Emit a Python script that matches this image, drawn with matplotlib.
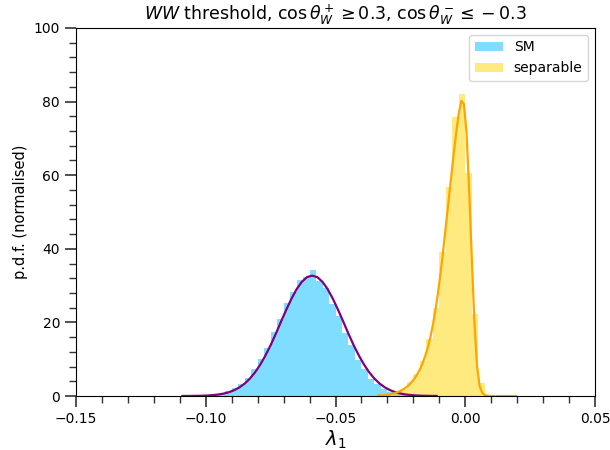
import matplotlib
matplotlib.use("Agg")
import matplotlib.pyplot as plt
from matplotlib.ticker import MultipleLocator
import numpy as np

# histogram bins (width 0.0025) and normalised heights
binWidth = 0.0025
smFirstCentre = -0.10875
smHeights = [0.01, 0.02, 0.05, 0.1, 0.2, 0.4, 0.7, 1.3, 2.1, 3.3,
             5.0, 7.3, 10.1, 13.0, 17.5, 21.0, 25.4, 28.3, 31.6, 32.3,
             34.3, 31.2, 29.4, 25.0, 21.8, 17.1, 13.8, 9.8, 7.4, 4.7,
             3.3, 1.9, 1.2, 0.7, 0.4, 0.2, 0.1, 0.05, 0.02]
sepFirstCentre = -0.03125
sepHeights = [0.3, 0.5, 1.1, 2.0, 3.8, 6.0, 9.5, 15.5, 24.0, 39.0,
              56.7, 75.7, 82.0, 60.5, 22.3, 3.5, 0.3, 0.05]

# fitted p.d.f. curves
smCurveStart, smCurveStep = -0.109, 0.002
smCurveY = [0.007, 0.014, 0.027, 0.049, 0.087, 0.15, 0.26, 0.42, 0.67, 1.05,
            1.59, 2.35, 3.38, 4.72, 6.43, 8.53, 11.0, 13.8, 16.9, 20.2,
            23.4, 26.4, 29.0, 31.0, 32.3, 32.7, 32.3, 31.0, 29.0, 26.4,
            23.4, 20.2, 16.9, 13.8, 11.0, 8.53, 6.43, 4.72, 3.38, 2.35,
            1.59, 1.05, 0.67, 0.42, 0.26, 0.15, 0.087, 0.049, 0.027, 0.014]
sepCurveStart, sepCurveStep = -0.0335, 0.001
sepCurveY = [0.13, 0.18, 0.24, 0.32, 0.42, 0.55, 0.72, 0.95, 1.2, 1.55,
             2.0, 2.5, 3.1, 3.9, 4.8, 5.9, 7.2, 8.8, 10.7, 13.0,
             15.8, 19.2, 23.2, 28.0, 33.4, 39.5, 46.0, 52.5, 59.0, 65.5,
             71.5, 76.8, 80.2, 79.3, 71.5, 56.0, 38.0, 20.5, 8.5, 2.8,
             0.9, 0.25, 0.06, 0.02, 0.0, 0.0, 0.0, 0.0, 0.0, 0.0,
             0.0, 0.0, 0.0, 0.0]

smEdges = smFirstCentre - binWidth / 2 + binWidth * np.arange(len(smHeights) + 1)
sepEdges = sepFirstCentre - binWidth / 2 + binWidth * np.arange(len(sepHeights) + 1)
smCurveX = smCurveStart + smCurveStep * np.arange(len(smCurveY))
sepCurveX = sepCurveStart + sepCurveStep * np.arange(len(sepCurveY))

fig = plt.figure(figsize=(6.1, 4.5), dpi=100)
ax = fig.add_axes([0.1246, 0.1200, 0.8508, 0.8178])

ax.stairs(smHeights, smEdges, fill=True, color='deepskyblue', alpha=0.5,
          label='SM')
ax.stairs(sepHeights, sepEdges, fill=True, color='gold', alpha=0.5,
          label='separable')
ax.plot(smCurveX, smCurveY, color='purple', linewidth=1.6)
ax.plot(sepCurveX, sepCurveY, color='orange', linewidth=1.6)

ax.set_xlim(-0.15, 0.05)
ax.set_ylim(0, 100)
ax.xaxis.set_major_locator(MultipleLocator(0.05))
ax.xaxis.set_minor_locator(MultipleLocator(0.01))
ax.yaxis.set_major_locator(MultipleLocator(20))
ax.yaxis.set_minor_locator(MultipleLocator(4))
ax.tick_params(which='major', length=8, width=1.2, color='#333333',
               labelsize=10)
ax.tick_params(which='minor', length=5, width=1.0, color='#333333')

ax.set_xlabel(r'$\lambda_1$', fontsize=14, labelpad=2)
ax.set_ylabel('p.d.f. (normalised)', fontsize=10.5)
ax.set_title(r'$WW$ threshold, $\cos\theta_W^+ \geq 0.3$, '
             r'$\cos\theta_W^- \leq -0.3$', fontsize=12.5)
ax.legend(loc='upper right', fontsize=10)

fig.savefig('out.png', dpi=100)
